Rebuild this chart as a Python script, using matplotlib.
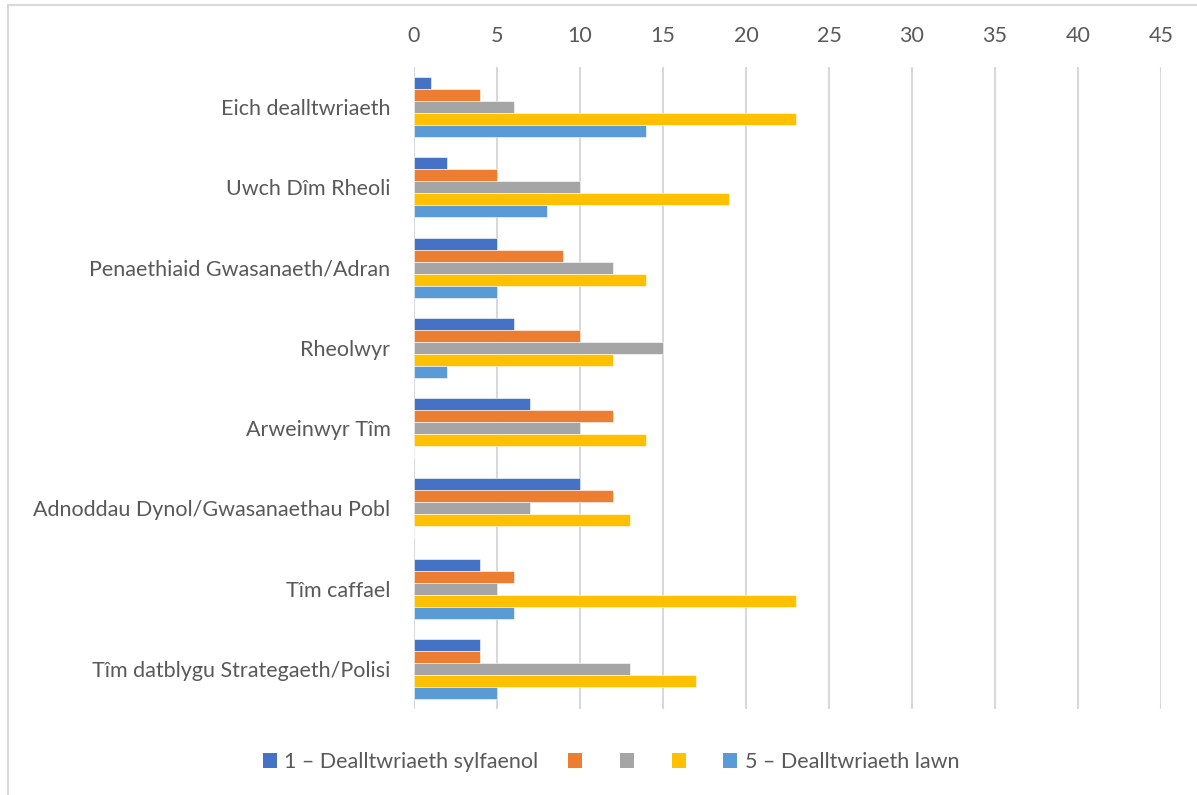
import matplotlib
matplotlib.use('Agg')
import matplotlib.pyplot as plt
from matplotlib.patches import Patch
from matplotlib.lines import Line2D
import numpy as np

plt.rcParams['font.family'] = ['Lato', 'DejaVu Sans']

categories = ['Eich dealltwriaeth', 'Uwch Dîm Rheoli', 'Penaethiaid Gwasanaeth/Adran',
              'Rheolwyr', 'Arweinwyr Tîm', 'Adnoddau Dynol/Gwasanaethau Pobl',
              'Tîm caffael', 'Tîm datblygu Strategaeth/Polisi']
series_labels = ['1 – Dealltwriaeth sylfaenol', '', '', '', '5 – Dealltwriaeth lawn']
level1 = [1, 2, 5, 6, 7, 10, 4, 4]
level2 = [4, 5, 9, 10, 12, 12, 6, 4]
level3 = [6, 10, 12, 15, 10, 7, 5, 13]
level4 = [23, 19, 14, 12, 14, 13, 23, 17]
level5 = [14, 8, 5, 2, 0, 0, 6, 5]
colors = ['#4472C4', '#ED7D31', '#A5A5A5', '#FFC000', '#5B9BD5']
xticks = list(range(0, 50, 5))

W, H = 1197, 795
fig = plt.figure(figsize=(W / 100, H / 100), dpi=100)
ax = fig.add_axes([414 / W, 1 - 709 / H, (1161 - 414) / W, (709 - 67) / H])

txt = '#595959'
grid = '#D9D9D9'
fs = 15.5
bh = 0.15
y = np.arange(len(categories))
for i, vals in enumerate([level1, level2, level3, level4, level5]):
    ax.barh(y + (i - 2) * bh, vals, height=bh, color=colors[i],
            edgecolor='white', linewidth=0.4, zorder=3)

ax.set_xlim(0, 45)
ax.set_ylim(len(categories) - 0.5, -0.5)
ax.set_xticks(xticks)
ax.xaxis.tick_top()
ax.set_yticks(y)
ax.set_yticklabels(categories)
ax.tick_params(axis='both', length=0, labelsize=fs, colors=txt)
ax.tick_params(axis='x', pad=15)
ax.tick_params(axis='y', pad=17)
ax.grid(axis='x', color=grid, linewidth=1.5, zorder=0)
for s in ax.spines.values():
    s.set_visible(False)

handles = [Patch(facecolor=c) for c in colors]
fig.legend(handles, series_labels, loc='center', bbox_to_anchor=(611 / W, 1 - 762 / H),
           ncol=5, frameon=False, fontsize=fs, labelcolor=txt,
           handlelength=0.65, handleheight=0.65, handletextpad=0.35, columnspacing=1.4)

# chart border
fig.add_artist(Line2D([8 / W, 8 / W], [0, 1 - 5 / H], color=grid, linewidth=1.5))
fig.add_artist(Line2D([8 / W, 1], [1 - 5 / H, 1 - 5 / H], color=grid, linewidth=1.5))

fig.savefig('out.png', dpi=100)
